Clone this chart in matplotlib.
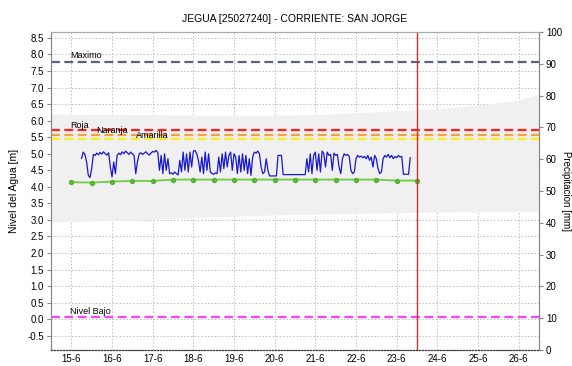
import numpy as np
import matplotlib.pyplot as plt

plt.rcParams['font.family'] = ['Liberation Sans', 'DejaVu Sans']

# Etiquetas del eje x (dia-mes), una por dia desde el 15-6
dias = ['15-6', '16-6', '17-6', '18-6', '19-6', '20-6',
        '21-6', '22-6', '23-6', '24-6', '25-6', '26-6']

# Nivel horario observado [m], desde la hora 6 del 15-6
nivel_inicio_h = 6
nivel = [4.86, 5.05, 4.98, 4.75, 4.35, 4.28, 4.55, 4.98,
         4.95, 5.02, 4.97, 5.04, 4.99, 5.06, 5.00, 4.96, 5.03,
         4.60, 4.30, 4.75, 4.40, 4.95,
         5.02, 4.97, 5.06, 5.00, 5.08, 5.03, 4.98, 5.05, 5.00, 4.95,
         4.40, 4.75, 5.00,
         5.03, 4.98, 5.02, 5.06, 5.00, 4.96, 5.02, 5.07, 5.05, 5.10, 5.04,
         4.50, 4.95, 4.40, 5.00, 4.50, 4.85, 4.40,
         4.42, 4.38, 4.45, 4.40, 4.36,
         4.80, 4.45, 5.05, 4.50, 5.00, 4.45, 5.05, 4.60, 5.08, 5.10, 5.00, 4.80,
         4.45, 4.90, 4.40, 5.05, 4.50, 5.00, 4.45, 4.40, 4.38, 4.42, 4.40,
         4.90, 4.45, 5.00, 4.55, 5.05, 4.60, 4.95, 5.05, 4.50, 5.00,
         4.90, 4.40, 4.95, 4.45, 5.00, 4.50, 4.95, 4.40, 4.85, 4.35, 4.90,
         5.05, 5.02, 5.08, 5.00, 4.60, 4.40, 4.45, 4.85, 4.50,
         4.33, 4.33, 4.33, 4.33, 4.33,
         4.95, 4.95, 4.95,
         4.37, 4.37, 4.37, 4.37, 4.37, 4.37, 4.37, 4.37, 4.37, 4.37, 4.37, 4.37, 4.37, 4.37,
         4.85, 4.45, 5.00, 4.40, 4.95, 5.05, 4.50, 5.00, 4.45, 5.08, 5.00, 4.60, 5.05, 4.95,
         4.98, 4.50, 5.02, 4.95, 4.98, 4.60, 4.40, 4.85, 5.00, 4.95, 4.98, 4.92,
         4.50, 4.40, 4.45, 4.85, 4.95, 4.90, 4.93, 4.88, 4.92, 4.85, 4.95, 4.80, 4.90,
         4.60, 4.95, 4.85, 4.55, 4.40, 4.45, 4.85, 4.95, 4.90, 4.98, 4.88, 4.95, 4.85, 4.92, 4.88, 4.95,
         4.90, 4.92, 4.38, 4.38, 4.38, 4.38, 4.88]

# Nivel cada 12 horas (serie verde) [m]
nivel_12h = [4.14, 4.13, 4.16, 4.18, 4.18, 4.22, 4.22, 4.22, 4.22,
             4.22, 4.22, 4.22, 4.22, 4.22, 4.22, 4.22, 4.19, 4.19]

# Umbrales [m]
umbral_nombres = ['Maximo', 'Roja', 'Naranja', 'Amarilla', 'Nivel Bajo']
umbral_valores = [7.78, 5.73, 5.58, 5.44, 0.08]
umbral_colores = ['#5a6478', '#ff2020', '#f5a040', '#f5f020', '#ff40ff']

# Banda gris (dias desde 15-6, limites en m)
banda_dias = [-0.5, 2.0, 4.0, 6.0, 8.0, 9.0, 10.0, 11.0, 11.5]
banda_sup = [6.20, 6.18, 6.15, 6.18, 6.30, 6.36, 6.47, 6.62, 6.80]
banda_inf = [2.93, 3.02, 3.12, 3.18, 3.22, 3.24, 3.25, 3.26, 3.26]

# Hora actual (dias desde 15-6)
ahora = 8.5

fig = plt.figure(figsize=(5.72, 3.66), dpi=100)
ax = fig.add_axes([0.0892, 0.0437, 0.8531, 0.8689])
ax2 = ax.twinx()

ax.fill_between(banda_dias, banda_inf, banda_sup, color='#f0f0f0', lw=0, zorder=1)

for nombre, val, col in zip(umbral_nombres, umbral_valores, umbral_colores):
    ax.plot([-0.5, 11.5], [val, val], color=col, lw=1.6, dashes=(4, 2), zorder=3)

ax.text(-0.03, 7.83, 'Maximo', fontsize=6.5, va='bottom')
ax.text(-0.03, 5.72, 'Roja', fontsize=6.5, va='bottom')
ax.text(0.6, 5.57, 'Naranja', fontsize=6.5, va='bottom')
ax.text(1.6, 5.42, 'Amarilla', fontsize=6.5, va='bottom')
ax.text(-0.03, 0.11, 'Nivel Bajo', fontsize=6.5, va='bottom')

horas = np.arange(len(nivel)) + nivel_inicio_h
ax.plot(horas / 24.0, nivel, color='#1818cc', lw=0.9, zorder=4)

dias_12h = np.arange(len(nivel_12h)) * 0.5
ax.plot(dias_12h, nivel_12h, color='#70cc40', lw=1.3, marker='o', ms=2.8,
        mec='#50b030', mfc='#60c038', zorder=4)

ax.axvline(ahora, color='#c83232', lw=1, zorder=5)

ax.set_xlim(-0.5, 11.5)
ax.set_ylim(-0.93, 8.68)
ax.set_xticks(range(len(dias)))
ax.set_xticklabels(dias)
ax.set_yticks(np.arange(-0.5, 8.51, 0.5))
ax.set_yticklabels(['%.1f' % v for v in np.arange(-0.5, 8.51, 0.5)])
ax.grid(True, color='#bdbdbd', ls=(0, (1.5, 2)), lw=0.7)
ax.set_axisbelow(True)
ax.tick_params(axis='y', labelsize=7, length=3, color='#888888', pad=2)
ax.tick_params(axis='x', labelsize=7, length=0, pad=3)
ax.set_ylabel('Nivel del Agua [m]', fontsize=7.5, labelpad=6)

ax2.set_ylim(0, 100)
ax2.set_yticks(range(0, 101, 10))
ax2.tick_params(axis='y', labelsize=7, length=3, color='#888888', pad=2)
ax2.set_ylabel('Precipitacion [mm]', fontsize=7, rotation=-90, labelpad=3,
               va='center')

for a in (ax, ax2):
    a.spines['left'].set_color('#888888')
    a.spines['right'].set_color('#888888')
    a.spines['top'].set_color('#aaaaaa')
    a.spines['bottom'].set_color('#333333')
    a.spines['bottom'].set_linestyle(':')

ax.set_title('JEGUA [25027240] - CORRIENTE: SAN JORGE', fontsize=7.5, pad=7)

fig.savefig('out.png', dpi=100)
